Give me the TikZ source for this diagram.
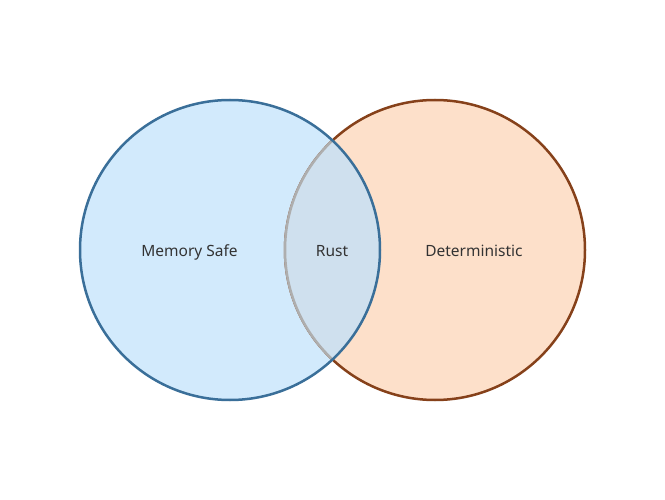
\documentclass[tikz,border=0pt]{standalone}
\usepackage{fontspec}
\setmainfont{Noto Sans}
\definecolor{lfill}{HTML}{D2EAFC}
\definecolor{lline}{HTML}{3A6F99}
\definecolor{rfill}{HTML}{FDE0CA}
\definecolor{rline}{HTML}{86411A}
\definecolor{ifill}{HTML}{CFE0EE}
\definecolor{iline}{HTML}{AEAEAE}
\definecolor{txt}{HTML}{333333}
\begin{document}
\begin{tikzpicture}[x=1pt,y=-1pt,
  lbl/.style={text=txt,font=\fontsize{15.5}{18}\selectfont,inner sep=0pt,anchor=base}]
\useasboundingbox[fill=white] (0,0) rectangle (665,500);
\coordinate (lc) at (230,250);
\coordinate (rc) at (435,250);
\fill[lfill] (lc) circle[radius=150];
\fill[rfill] (rc) circle[radius=150];
\draw[rline,line width=2.5pt] (rc) circle[radius=150];
\begin{scope}
\clip (lc) circle[radius=150];
\fill[ifill] (rc) circle[radius=150];
\draw[iline,line width=2.5pt] (rc) circle[radius=150];
\end{scope}
\draw[lline,line width=2.5pt] (lc) circle[radius=150];
\node[lbl] (ms) at (189.5,256.5) {Memory Safe};
\node[lbl] (ru) at (332,256.5) {Rust};
\node[lbl] (de) at (474,256.5) {Deterministic};
\end{tikzpicture}
\end{document}
